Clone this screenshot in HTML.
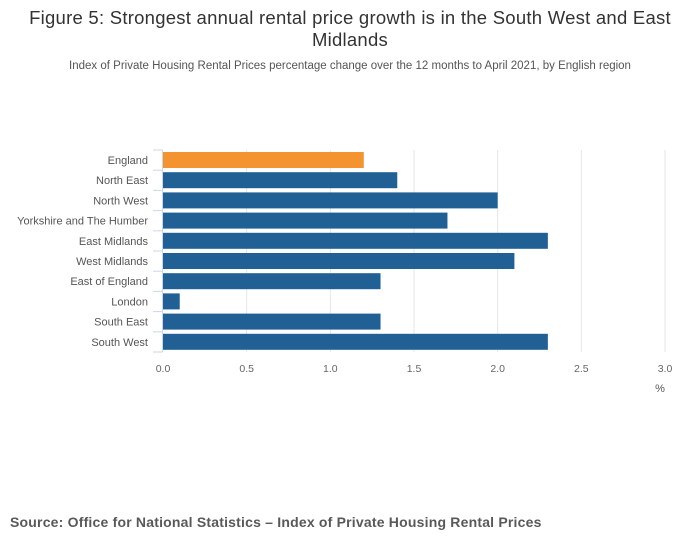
<!DOCTYPE html>
<html><head><meta charset="utf-8"><style>
body{margin:0;width:700px;height:549px;background:#fff;font-family:"Liberation Sans",sans-serif;overflow:hidden}
</style></head><body>
<svg width="700" height="549" font-family="Liberation Sans, sans-serif">
<text x="350" y="24" text-anchor="middle" font-size="18.5" letter-spacing="0.25" fill="#333">Figure 5: Strongest annual rental price growth is in the South West and East</text>
<text x="350" y="46" text-anchor="middle" font-size="18.5" letter-spacing="0.25" fill="#333">Midlands</text>
<text x="350" y="69" text-anchor="middle" font-size="11.5" fill="#555">Index of Private Housing Rental Prices percentage change over the 12 months to April 2021, by English region</text>
<g id="grid"></g><g id="bars"></g><g id="labels"></g>
<text x="660" y="392" text-anchor="middle" font-size="11" fill="#555">%</text>
<text x="10" y="527" font-size="14" letter-spacing="0.2" font-weight="bold" fill="#595959">Source: Office for National Statistics – Index of Private Housing Rental Prices</text>
</svg>
<script>
const categories=["England","North East","North West","Yorkshire and The Humber","East Midlands","West Midlands","East of England","London","South East","South West"];
const values=[1.2,1.4,2.0,1.7,2.3,2.1,1.3,0.1,1.3,2.3];
const ticks=[0,0.5,1,1.5,2,2.5,3];
const tickLabels=["0.0","0.5","1.0","1.5","2.0","2.5","3.0"];
const NS="http://www.w3.org/2000/svg";
const x0=163,x1=665,xmax=3,topY=150,rowH=20.2;
const xs=v=>x0+(x1-x0)*v/xmax;
function mk(t,a,p){const e=document.createElementNS(NS,t);for(const k in a)e.setAttribute(k,a[k]);p.appendChild(e);return e;}
const gG=document.getElementById('grid'),gB=document.getElementById('bars'),gL=document.getElementById('labels');
const bottomY=topY+rowH*categories.length;
ticks.forEach((t,i)=>{
  if(i>0){const ln=mk('line',{x1:xs(t),x2:xs(t),y1:topY,y2:bottomY,stroke:'#e6e6e6'},gG);
  
  }
  const tx=mk('text',{x:xs(t),y:372,'text-anchor':'middle','font-size':'10.5',fill:'#666'},gL);
  tx.textContent=tickLabels[i];
  
  
});
const ax=mk('line',{x1:162.5,x2:162.5,y1:topY,y2:bottomY,stroke:'#ccd6eb'},gG);


for(let i=0;i<=categories.length;i++){
  const tk=mk('line',{x1:153,x2:162.5,y1:topY+i*rowH,y2:topY+i*rowH,stroke:'#ccd6eb'},gG);
  
  
}
categories.forEach((c,i)=>{
  const y=topY+i*rowH;
  const r=mk('rect',{x:x0,y:y+2,width:xs(values[i])-x0,height:16,fill:i===0?'#f39431':'#206095'},gB);
  
  
  const t=mk('text',{x:148,y:y+14,'text-anchor':'end','font-size':'11',fill:'#555'},gL);
  t.textContent=c;
  
  
});
</script>
</body></html>
